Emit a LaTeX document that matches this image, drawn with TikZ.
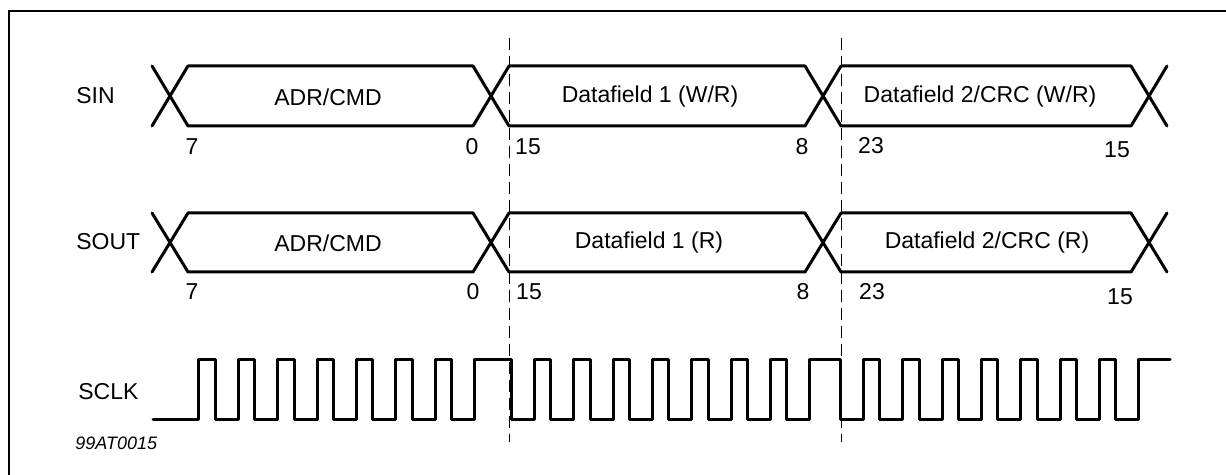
\documentclass[tikz,border=0pt]{standalone}
\usepackage{fontspec}
\setmainfont{Liberation Sans}
\begin{document}
\begin{tikzpicture}[x=0.5pt, y=-0.5pt,
	bus/.style={line width=1.5pt, line join=round, line cap=round},
	clk/.style={line width=1.5pt, line join=round, line cap=round},
	guide/.style={line width=0.5pt, dash pattern=on 6pt off 3pt},
	sig/.style={anchor=west, inner sep=0pt, font=\fontsize{11.5}{13}\selectfont},
	txt/.style={inner sep=0pt, font=\fontsize{11.5}{13}\selectfont}]
	\useasboundingbox (0,0) rectangle (1226,475);
	% frame
	\draw[line width=1pt] (9,475) -- (9,11) -- (1226,11);
	% byte borders
	\draw[guide] (509,38) -- (509,442);
	\draw[guide] (841,38) -- (841,442);
	% SIN
	\node[sig] (sin) at (76,96) {SIN};
	\draw[bus] (152,66) -- (188,126) -- (473,126) -- (509,66) -- (805,66) -- (841,126) -- (1131,126) -- (1167,66);
	\draw[bus] (152,126) -- (188,66) -- (473,66) -- (509,126) -- (805,126) -- (841,66) -- (1131,66) -- (1167,126);
	\node[txt] (sinadr) at (328,97) {ADR/CMD};
	\node[txt] (sind1) at (650,97) {Datafield 1 (W/R)};
	\node[txt] (sind2) at (980,97) {Datafield 2/CRC (W/R)};
	\node[txt] (sin7) at (192,147) {7};
	\node[txt] (sin0) at (472,147) {0};
	\node[txt] (sin15) at (528,147) {15};
	\node[txt] (sin8) at (802,147) {8};
	\node[txt] (sin23) at (871,146) {23};
	\node[txt] (sin15b) at (1117,150) {15};
	% SOUT
	\node[sig] (sout) at (76,242) {SOUT};
	\draw[bus] (152,213) -- (188,272) -- (473,272) -- (509,213) -- (805,213) -- (841,272) -- (1131,272) -- (1167,213);
	\draw[bus] (152,272) -- (188,213) -- (473,213) -- (509,272) -- (805,272) -- (841,213) -- (1131,213) -- (1167,272);
	\node[txt] (soutadr) at (328,243) {ADR/CMD};
	\node[txt] (soutd1) at (649,243) {Datafield 1 (R)};
	\node[txt] (soutd2) at (987,243) {Datafield 2/CRC (R)};
	\node[txt] (sout7) at (192,292) {7};
	\node[txt] (sout0) at (473,292) {0};
	\node[txt] (sout15) at (529,292) {15};
	\node[txt] (sout8) at (803,292) {8};
	\node[txt] (sout23) at (872,292) {23};
	\node[txt] (sout15b) at (1120,297) {15};
	% SCLK
	\node[sig] (sclk) at (78,392) {SCLK};
	\draw[clk] (153,420) -- (198,420) -- (198,360)
		\foreach \f in {215,254,294,333,372,412,451,511,550,590,629,668,708,747,786,840,879,919,958,997,1037,1076,1115}
		{ -- (\f,360) -- (\f,420) -- (\f+23,420) -- (\f+23,360) } -- (1170,360);
	\node[anchor=west, inner sep=0pt, font=\fontsize{9}{11}\selectfont\itshape] (fig) at (75,443) {99AT0015};
\end{tikzpicture}
\end{document}
